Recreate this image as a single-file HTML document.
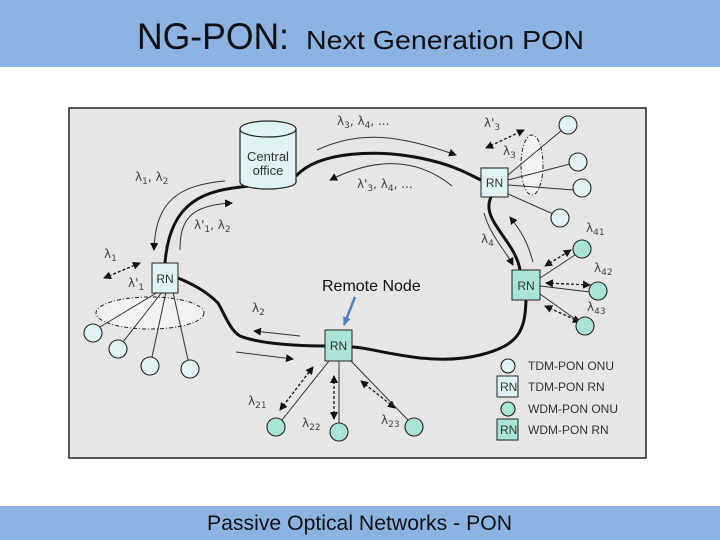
<!DOCTYPE html>
<html><head><meta charset="utf-8"><style>
html,body{margin:0;padding:0;width:720px;height:540px;overflow:hidden;background:#fff}
svg{display:block}
</style></head><body>
<svg width="720" height="540" viewBox="0 0 720 540" xmlns="http://www.w3.org/2000/svg" font-family="Liberation Sans, DejaVu Sans, sans-serif">
<defs>
<marker id="a" markerWidth="8" markerHeight="8" refX="7" refY="4" orient="auto" markerUnits="userSpaceOnUse"><path d="M0,0 L8,4 L0,8 z" fill="#111"/></marker>
<marker id="b" markerWidth="8" markerHeight="8" refX="1" refY="4" orient="auto" markerUnits="userSpaceOnUse"><path d="M8,0 L0,4 L8,8 z" fill="#111"/></marker>
<marker id="c" markerWidth="10" markerHeight="10" refX="8" refY="5" orient="auto" markerUnits="userSpaceOnUse"><path d="M0,1 L9,5 L0,9 z" fill="#4f7fc0"/></marker>
</defs>
<rect x="0" y="0" width="720" height="67" fill="#8db3e2"/>
<text x="137" y="49" font-size="37" fill="#111" textLength="152" lengthAdjust="spacingAndGlyphs">NG-PON:</text>
<text x="306" y="49" font-size="26" fill="#111" textLength="278" lengthAdjust="spacingAndGlyphs">Next Generation PON</text>
<rect x="0" y="506" width="720" height="34" fill="#8db3e2"/>
<text x="207" y="530" font-size="21" fill="#111" textLength="305" lengthAdjust="spacingAndGlyphs">Passive Optical Networks - PON</text>

<rect x="69" y="108" width="577" height="350" fill="#e6e6e6" stroke="#222" stroke-width="1.5"/>

<ellipse cx="150" cy="313" rx="54" ry="16" fill="#f2f2f2" stroke="#222" stroke-dasharray="4,2,1,2"/>
<ellipse cx="532" cy="165" rx="11" ry="30" fill="#f2f2f2" stroke="#222" stroke-dasharray="4,2,1,2"/>

<g fill="none" stroke="#111" stroke-width="3">
<path d="M250,186 C205,190 170,200 165,263"/>
<path d="M296,176 C320,150 380,150 420,158 C455,165 470,175 481,180"/>
<path d="M491,197 C480,220 515,240 520,270"/>
<path d="M526,300 C525,330 520,345 480,355 C460,360 440,360 420,358 C380,353 365,347 352,347"/>
<path d="M325,346 C300,346 260,344 240,336 C230,330 225,315 218,303 C205,290 190,283 178,278"/>
</g>
<g fill="none" stroke="#333" stroke-width="1">
<path d="M225,181 C180,185 155,200 154,250" marker-end="url(#a)"/>
<path d="M180,250 C180,220 190,205 232,203" marker-end="url(#a)"/>
<path d="M317,150 C360,130 400,135 456,155" marker-end="url(#a)"/>
<path d="M452,186 C420,160 380,155 330,180" marker-end="url(#a)"/>
<path d="M484,213 C490,235 505,250 513,265" marker-end="url(#a)"/>
<path d="M533,262 C527,240 520,230 510,217" marker-end="url(#a)"/>
<path d="M300,336 L254,331" marker-end="url(#a)"/>
<path d="M236,352 L293,359" marker-end="url(#a)"/>
</g>
<g stroke="#111" stroke-width="1.3" stroke-dasharray="3,2" fill="none">
<path d="M104,278 L140,263" marker-start="url(#b)" marker-end="url(#a)"/>
<path d="M486,148 L524,130" marker-start="url(#b)" marker-end="url(#a)"/>
<path d="M545,266 L571,250" marker-start="url(#b)" marker-end="url(#a)"/>
<path d="M546,283 L590,285" marker-start="url(#b)" marker-end="url(#a)"/>
<path d="M545,306 L580,322" marker-start="url(#b)" marker-end="url(#a)"/>
<path d="M280,410 L313,367" marker-start="url(#b)" marker-end="url(#a)"/>
<path d="M334,376 L334,419" marker-start="url(#b)" marker-end="url(#a)"/>
<path d="M361,381 L395,408" marker-start="url(#b)" marker-end="url(#a)"/>
</g>
<g stroke="#333" stroke-width="1">
<line x1="158" y1="292" x2="100" y2="327"/><line x1="162" y1="292" x2="123" y2="342"/>
<line x1="166" y1="292" x2="152" y2="357"/><line x1="173" y1="292" x2="188" y2="360"/>
<line x1="508" y1="175" x2="562" y2="130"/><line x1="508" y1="180" x2="570" y2="164"/>
<line x1="508" y1="185" x2="574" y2="190"/><line x1="506" y1="193" x2="553" y2="214"/>
<line x1="540" y1="278" x2="575" y2="255"/><line x1="540" y1="286" x2="590" y2="292"/>
<line x1="540" y1="294" x2="578" y2="321"/>
<line x1="329" y1="361" x2="282" y2="420"/><line x1="339" y1="361" x2="339" y2="423"/>
<line x1="351" y1="361" x2="408" y2="420"/>
</g>
<path d="M240,129 L240,182 A28,7 0 0 0 296,182 L296,129" fill="#dff2f4" stroke="#222" stroke-width="1.2"/>
<ellipse cx="268" cy="129" rx="28" ry="8" fill="#dff2f4" stroke="#222" stroke-width="1.2"/>
<text x="268" y="161" font-size="13" text-anchor="middle" fill="#333">Central</text>
<text x="268" y="175" font-size="13" text-anchor="middle" fill="#333">office</text>
<g font-size="12" fill="#333" text-anchor="middle">
<rect x="152" y="263" width="26" height="30" fill="#dff2f4" stroke="#222"/><text x="165" y="283">RN</text>
<rect x="481" y="168" width="27" height="29" fill="#dff2f4" stroke="#222"/><text x="494.5" y="187">RN</text>
<rect x="512" y="270" width="28" height="30" fill="#a8e4d8" stroke="#222"/><text x="526" y="290">RN</text>
<rect x="325" y="330" width="27" height="31" fill="#a8e4d8" stroke="#222"/><text x="338.5" y="350">RN</text>
</g>
<g stroke="#222" stroke-width="1.1">
<g fill="#dff2f4">
<circle cx="93" cy="333" r="9"/><circle cx="118" cy="349" r="9"/><circle cx="150" cy="366" r="9"/><circle cx="190" cy="369" r="9"/>
<circle cx="568" cy="125" r="9"/><circle cx="578" cy="162" r="9"/><circle cx="582" cy="188" r="9"/><circle cx="560" cy="218" r="9"/>
<circle cx="508" cy="366" r="7"/>
</g>
<g fill="#a8e4d8">
<circle cx="582" cy="249" r="9"/><circle cx="598" cy="291" r="9"/><circle cx="585" cy="326" r="9"/>
<circle cx="276" cy="427" r="9"/><circle cx="339" cy="432" r="9"/><circle cx="414" cy="427" r="9"/>
<circle cx="508" cy="409" r="7"/>
</g>
</g>
<rect x="497" y="376" width="21" height="21" fill="#dff2f4" stroke="#222"/>
<rect x="497" y="419" width="21" height="21" fill="#a8e4d8" stroke="#222"/>
<g font-size="12" fill="#333">
<text x="500" y="391">RN</text><text x="500" y="434">RN</text>
<text x="528" y="370">TDM-PON ONU</text><text x="528" y="391">TDM-PON RN</text>
<text x="528" y="413">WDM-PON ONU</text><text x="528" y="434">WDM-PON RN</text>
</g>
<g font-size="12" fill="#444" font-family="DejaVu Sans, sans-serif">
<text x="135" y="181">λ<tspan font-size="9" dy="3">1</tspan><tspan dy="-3">, λ</tspan><tspan font-size="9" dy="3">2</tspan></text>
<text x="194" y="229">λ'<tspan font-size="9" dy="3">1</tspan><tspan dy="-3">, λ</tspan><tspan font-size="9" dy="3">2</tspan></text>
<text x="104" y="258">λ<tspan font-size="9" dy="3">1</tspan></text>
<text x="128" y="287">λ'<tspan font-size="9" dy="3">1</tspan></text>
<text x="337" y="125">λ<tspan font-size="9" dy="3">3</tspan><tspan dy="-3">, λ</tspan><tspan font-size="9" dy="3">4</tspan><tspan dy="-3">, ...</tspan></text>
<text x="357" y="188">λ'<tspan font-size="9" dy="3">3</tspan><tspan dy="-3">, λ</tspan><tspan font-size="9" dy="3">4</tspan><tspan dy="-3">, ...</tspan></text>
<text x="484" y="127">λ'<tspan font-size="9" dy="3">3</tspan></text>
<text x="503" y="155">λ<tspan font-size="9" dy="3">3</tspan></text>
<text x="481" y="243">λ<tspan font-size="9" dy="3">4</tspan></text>
<text x="586" y="232">λ<tspan font-size="9" dy="3">41</tspan></text>
<text x="594" y="272">λ<tspan font-size="9" dy="3">42</tspan></text>
<text x="587" y="311">λ<tspan font-size="9" dy="3">43</tspan></text>
<text x="252" y="312">λ<tspan font-size="9" dy="3">2</tspan></text>
<text x="248" y="405">λ<tspan font-size="9" dy="3">21</tspan></text>
<text x="302" y="427">λ<tspan font-size="9" dy="3">22</tspan></text>
<text x="381" y="424">λ<tspan font-size="9" dy="3">23</tspan></text>
</g>
<text x="322" y="291" font-size="16" fill="#111">Remote Node</text>
<line x1="355" y1="297" x2="344" y2="325" stroke="#4f7fc0" stroke-width="2.5" marker-end="url(#c)"/>
</svg>
</body></html>
